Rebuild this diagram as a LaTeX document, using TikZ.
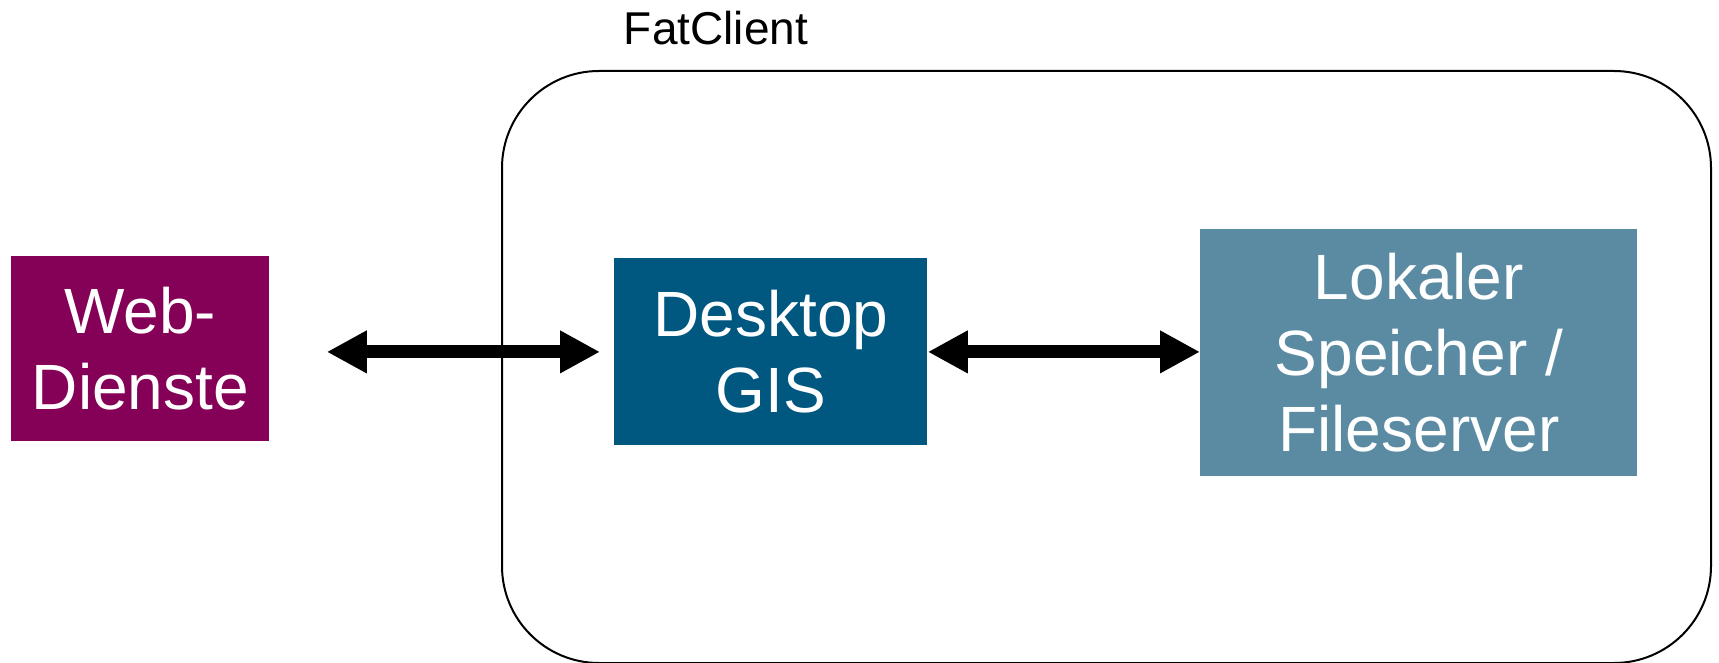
\documentclass[tikz,border=0pt]{standalone}
\usepackage{fontspec}
\setmainfont{Liberation Sans}
\usetikzlibrary{arrows.meta}
\definecolor{webcol}{RGB}{133,0,87}
\definecolor{deskcol}{RGB}{0,87,128}
\definecolor{lokcol}{RGB}{90,139,163}
\tikzset{
  box/.style={rectangle, inner sep=0pt, text=white, align=center,
    font=\fontsize{32pt}{38pt}\selectfont},
  bigarrow/.style={line width=6.5pt, {Triangle[length=20pt,width=20pt]}-{Triangle[length=20pt,width=20pt]}},
  frame/.style={draw=black, line width=1pt, rounded corners=48.5pt}
}
\begin{document}
\begin{tikzpicture}[x=0.5pt,y=-0.5pt]
\useasboundingbox (0,0) rectangle (1719,663);
% FatClient frame
\node[frame, minimum width=604.5pt, minimum height=296pt, anchor=north west] (fat) at (501,70) {};
\node[font=\fontsize{23pt}{27pt}\selectfont, inner sep=0pt] (fatlabel) at (716,28) {FatClient};
% boxes
\node[box, fill=webcol, minimum width=129pt, minimum height=92.5pt, anchor=north west] (web) at (11,256) {Web-\\Dienste};
\node[box, fill=deskcol, minimum width=156.5pt, minimum height=93.5pt, anchor=north west] (desk) at (614,258) {Desktop\\GIS};
\node[box, fill=lokcol, minimum width=218.5pt, minimum height=123.5pt, anchor=north west] (lok) at (1200,229) {Lokaler\\Speicher /\\Fileserver};
% arrows
\draw[bigarrow, shorten <=28.5pt, shorten >=7pt] (web.east |- desk.west) -- (desk.west);
\draw[bigarrow] (desk.east) -- (desk.east -| lok.west);
\end{tikzpicture}
\end{document}
